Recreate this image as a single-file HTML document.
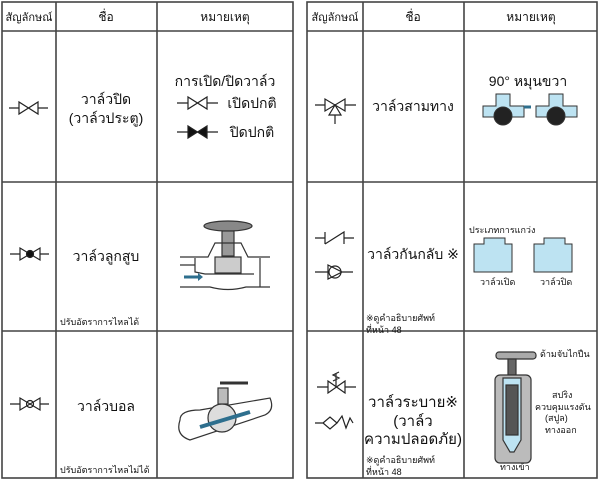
<!DOCTYPE html>
<html><head><meta charset="utf-8"><style>
html,body{margin:0;padding:0;background:#fff;width:600px;height:482px;overflow:hidden}
svg text{font-family:"Liberation Sans","DejaVu Sans",sans-serif;fill:#111}
</style></head><body>
<svg width="600" height="482" viewBox="0 0 600 482" xmlns="http://www.w3.org/2000/svg">
<g stroke="#444" stroke-width="1.6" fill="none">
<rect x="2" y="2" width="291" height="476"/>
<line x1="56" y1="2" x2="56" y2="478"/><line x1="157" y1="2" x2="157" y2="478"/>
<line x1="2" y1="31" x2="293" y2="31"/><line x1="2" y1="182" x2="293" y2="182"/><line x1="2" y1="331" x2="293" y2="331"/>
<rect x="307" y="2" width="290" height="476"/>
<line x1="363" y1="2" x2="363" y2="478"/><line x1="464" y1="2" x2="464" y2="478"/>
<line x1="307" y1="31" x2="597" y2="31"/><line x1="307" y1="182" x2="597" y2="182"/><line x1="307" y1="331" x2="597" y2="331"/>
</g>
<g font-size="12" text-anchor="middle">
<text x="29" y="21" font-size="11">สัญลักษณ์</text><text x="106" y="21">ชื่อ</text><text x="225" y="21">หมายเหตุ</text>
<text x="335" y="21" font-size="11">สัญลักษณ์</text><text x="413" y="21">ชื่อ</text><text x="531" y="21">หมายเหตุ</text>
</g>
<g font-size="14" text-anchor="middle">
<text x="106" y="104">วาล์วปิด</text><text x="106" y="123">(วาล์วประตู)</text>
<text x="106" y="261">วาล์วลูกสูบ</text>
<text x="106" y="411">วาล์วบอล</text>
<text x="413" y="111">วาล์วสามทาง</text>
<text x="413" y="259">วาล์วกันกลับ ※</text>
<text x="413" y="407" font-size="15">วาล์วระบาย※</text><text x="413" y="426" font-size="15">(วาล์ว</text><text x="413" y="444" font-size="15">ความปลอดภัย)</text>
<text x="225" y="86">การเปิด/ปิดวาล์ว</text><text x="252" y="108">เปิดปกติ</text><text x="252" y="137">ปิดปกติ</text>
<text x="528" y="86">90°  หมุนขวา</text>
</g>
<g font-size="9">
<text x="60" y="325">ปรับอัตราการไหลได้</text><text x="60" y="473">ปรับอัตราการไหลไม่ได้</text>
<text x="366" y="321">※ดูคำอธิบายศัพท์</text><text x="366" y="333">ที่หน้า 48</text>
<text x="366" y="463">※ดูคำอธิบายศัพท์</text><text x="366" y="475">ที่หน้า 48</text>
<text x="469" y="233">ประเภทการแกว่ง</text><text x="480" y="285">วาล์วเปิด</text><text x="540" y="285">วาล์วปิด</text>
<text x="540" y="357">ด้ามจับไกปืน</text><text x="552" y="398">สปริง</text><text x="535" y="410">ควบคุมแรงดัน</text><text x="545" y="421">(สปูล)</text><text x="545" y="433">ทางออก</text><text x="500" y="470">ทางเข้า</text>
</g>
<g stroke="#222" stroke-width="1.2" fill="none">
<path d="M9 108H19M19 102V114L38 102V114ZM38 108H48"/>
<path d="M177 103H188M188 97V109L207 97V109ZM207 103H218"/>
<path d="M177 132H188M188 126V138L207 126V138ZM207 132H218" fill="#111"/>
<path d="M10 254H20M20 248V260L40 248V260ZM40 254H49"/><circle cx="30" cy="254" r="3.5" fill="#111"/>
<path d="M10 404H20M20 398V410L40 398V410ZM40 404H49"/><circle cx="30" cy="404" r="3.5"/>
<path d="M315 105H325M325 99V111L345 99V111ZM345 105H356M335 105L329 115H341ZM335 115V124"/>
<path d="M315 238H325M325 232V244M325 244L344 232V244M344 238H354"/>
<path d="M315 272H328M342 272H353M328 265L342 272L328 279Z"/><circle cx="335" cy="272" r="6"/>
<path d="M317 387H328M328 381V393L345 381V393ZM345 387H356M336 387V374M333 381L339 378L333 375L339 372"/>
<path d="M315 423H323M323 423L330 417L337 423L330 429ZM337 423L342 416L346 428L350 418L353 423"/>
</g>
<g stroke="#333" stroke-width="1.2" fill="none">
<ellipse cx="228" cy="226" rx="24" ry="5" fill="#888"/>
<rect x="222" y="231" width="12" height="25" fill="#999"/>
<path d="M180 257H208L215 243H241L248 257H270M180 265H195M195 258V272L205 274H254M260 258V287H270M180 287H210Q228 292 246 287H260"/>
<rect x="215" y="257" width="26" height="16" fill="#ccc"/>
</g>
<path d="M184 277H198" stroke="#2e6f8e" stroke-width="3"/><path d="M198 273L203 277L198 281Z" fill="#2e6f8e"/>
<g stroke="#333" stroke-width="1.2" fill="none">
<path d="M180 420Q175 435 190 440L265 415Q275 410 270 398L200 410Q180 410 180 420Z"/>
<circle cx="222" cy="418" r="14" fill="#ddd"/>
<rect x="218" y="388" width="10" height="16" fill="#bbb"/>
<path d="M220 383H248" stroke-width="3"/>
</g>
<path d="M200 427L250 412" stroke="#2e6f8e" stroke-width="4"/>
<g stroke="#333" fill="#bde3f2">
<path d="M483 106H496V94H510V106H524V117H483Z"/><circle cx="503" cy="116" r="9" fill="#222"/>
<path d="M536 106H549V94H563V106H577V117H536Z"/><circle cx="556" cy="116" r="9" fill="#222"/>
</g>
<path d="M524 107H531" stroke="#2e6f8e" stroke-width="3"/>
<g stroke="#333" fill="#bde3f2">
<path d="M474 244H484V238H505V244H512V272H474Z"/>
<path d="M534 244H544V238H565V244H572V272H534Z"/>
</g>
<g stroke="#333" stroke-width="1.2">
<rect x="496" y="352" width="40" height="7" rx="3" fill="#aaa"/>
<rect x="508" y="359" width="8" height="16" fill="#666"/>
<rect x="495" y="375" width="36" height="88" rx="5" fill="#bbb"/>
<path d="M503 378V440L510 452H514L521 440V378Z" fill="#bde3f2"/>
<rect x="506" y="385" width="12" height="50" fill="#555"/>
</g>
</svg>
</body></html>
